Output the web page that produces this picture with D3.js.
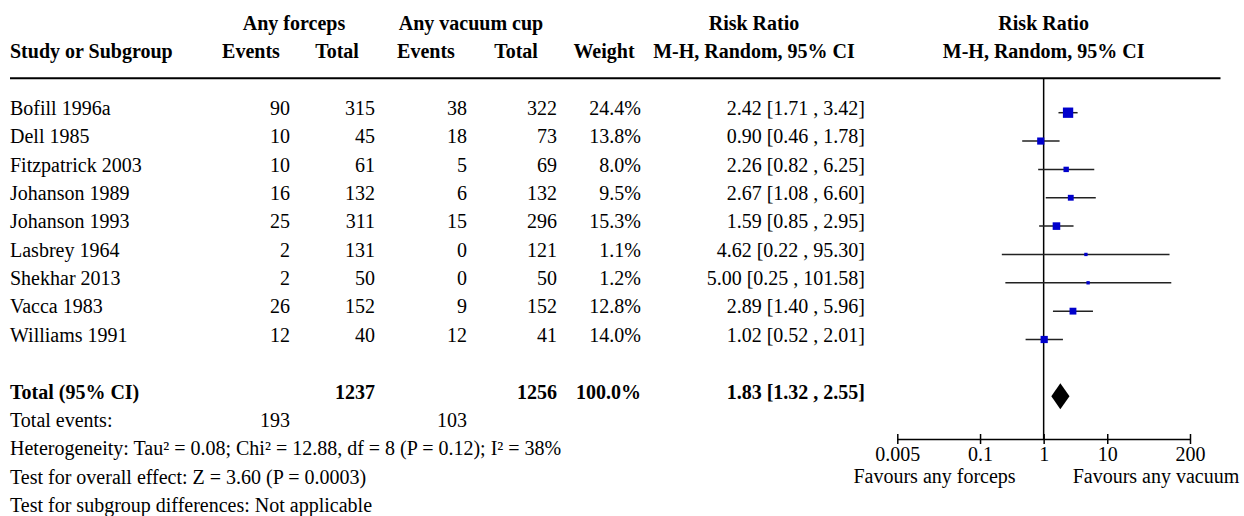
<!DOCTYPE html>
<html><head><meta charset="utf-8">
<script src="https://cdn.jsdelivr.net/npm/d3@7"></script>
<style>
html,body{margin:0;padding:0;background:#fff;}
svg text{font-family:"Liberation Serif","Times New Roman",serif;font-size:20px;fill:#000;}
.b{font-weight:bold;}
</style></head>
<body><svg id="c" width="1244" height="516"></svg>
<script>
const studies = ["Bofill 1996a","Dell 1985","Fitzpatrick 2003","Johanson 1989","Johanson 1993","Lasbrey 1964","Shekhar 2013","Vacca 1983","Williams 1991"];
const eventsForceps = [90,10,10,16,25,2,2,26,12];
const totalForceps = [315,45,61,132,311,131,50,152,40];
const eventsVacuum = [38,18,5,6,15,0,0,9,12];
const totalVacuum = [322,73,69,132,296,121,50,152,41];
const weights = [24.4,13.8,8.0,9.5,15.3,1.1,1.2,12.8,14.0];
const rr = [2.42,0.90,2.26,2.67,1.59,4.62,5.00,2.89,1.02];
const ciLow = [1.71,0.46,0.82,1.08,0.85,0.22,0.25,1.40,0.52];
const ciHigh = [3.42,1.78,6.25,6.60,2.95,95.30,101.58,5.96,2.01];
const total = {label:"Total (95% CI)", totalForceps:1237, totalVacuum:1256, weight:100.0, rr:1.83, lo:1.32, hi:2.55, eventsForceps:193, eventsVacuum:103};
const tickValues = [0.005,0.1,1,10,200];
const tickLabels = ["0.005","0.1","1","10","200"];
const footnotes = ["Heterogeneity: Tau\u00b2 = 0.08; Chi\u00b2 = 12.88, df = 8 (P = 0.12); I\u00b2 = 38%","Test for overall effect: Z = 3.60 (P = 0.0003)","Test for subgroup differences: Not applicable"];
const favours = ["Favours any forceps","Favours any vacuum"];

const svg = d3.select("#c");
const x = d3.scaleLog().domain([0.005,200]).range([897.3,1190]);
const rowH = 28.35, base0 = 115, mid0 = 112.7;
const rowBase = i => base0 + rowH*i;
const rowMid = i => mid0 + rowH*i;

// column positions
const hdrCenters = [251,337,426,516,604,754];
const dataRight = [290,375,467,557,641,865];

function txt(xp,yp,s,anchor,bold){
  return svg.append("text").attr("x",xp).attr("y",yp).attr("text-anchor",anchor||"start").attr("class",bold?"b":null).text(s);
}
// headers
txt(294,rowBase(-3),"Any forceps","middle",true);
txt(471,rowBase(-3),"Any vacuum cup","middle",true);
txt(754,rowBase(-3),"Risk Ratio","middle",true);
txt(x(1),rowBase(-3),"Risk Ratio","middle",true);
txt(10,rowBase(-2),"Study or Subgroup","start",true);
["Events","Total","Events","Total","Weight","M-H, Random, 95% CI"].forEach((h,i)=>txt(hdrCenters[i],rowBase(-2),h,"middle",true));
txt(x(1),rowBase(-2),"M-H, Random, 95% CI","middle",true);

svg.append("line").attr("x1",10).attr("x2",1220.5).attr("y1",78.3).attr("y2",78.3).attr("stroke","#000").attr("stroke-width",2);

const f2 = d3.format(".2f"), f1 = d3.format(".1f");
studies.forEach((s,i)=>{
  const y = rowBase(i);
  txt(10,y,s);
  txt(dataRight[0],y,eventsForceps[i],"end");
  txt(dataRight[1],y,totalForceps[i],"end");
  txt(dataRight[2],y,eventsVacuum[i],"end");
  txt(dataRight[3],y,totalVacuum[i],"end");
  txt(dataRight[4],y,f1(weights[i])+"%","end");
  txt(dataRight[5],y,f2(rr[i])+" ["+f2(ciLow[i])+" , "+f2(ciHigh[i])+"]","end");
});
// total row
const tr = 10;
txt(10,rowBase(tr),total.label,"start",true);
txt(dataRight[1],rowBase(tr),total.totalForceps,"end",true);
txt(dataRight[3],rowBase(tr),total.totalVacuum,"end",true);
txt(dataRight[4],rowBase(tr),f1(total.weight)+"%","end",true);
txt(dataRight[5],rowBase(tr),f2(total.rr)+" ["+f2(total.lo)+" , "+f2(total.hi)+"]","end",true);
txt(10,rowBase(11),"Total events:");
txt(dataRight[0],rowBase(11),total.eventsForceps,"end");
txt(dataRight[2],rowBase(11),total.eventsVacuum,"end");
footnotes.forEach((f,i)=>txt(10,rowBase(12+i),f));

// vertical line of no effect
const axisY = 439;
svg.append("line").attr("x1",x(1)).attr("x2",x(1)).attr("y1",78.3).attr("y2",axisY).attr("stroke","#000").attr("stroke-width",1.5);

// CI lines and squares
const g = svg.append("g");
studies.forEach((s,i)=>{
  const cy = rowMid(i);
  g.append("line").attr("x1",x(ciLow[i])).attr("x2",x(ciHigh[i])).attr("y1",cy).attr("y2",cy).attr("stroke","#222").attr("stroke-width",1.5);
  const sz = 3 + 0.3*weights[i];
  g.append("rect").attr("x",x(rr[i])-sz/2).attr("y",cy-sz/2).attr("width",sz).attr("height",sz).attr("fill","#0000cc");
});
// diamond
const dy = rowMid(tr), dh = 13;
svg.append("path").attr("d",`M${x(total.lo)},${dy}L${x(total.rr)},${dy-dh}L${x(total.hi)},${dy}L${x(total.rr)},${dy+dh}Z`).attr("fill","#000");

// axis
const ax = d3.axisBottom(x).tickValues(tickValues).tickFormat((d,i)=>tickLabels[i]).tickSizeInner(5).tickSizeOuter(0);
const ag = svg.append("g").attr("transform",`translate(0,${axisY})`).call(ax);
ag.select(".domain").attr("stroke","#000").attr("stroke-width",1.5);
ag.selectAll(".tick line").attr("y1",-5).attr("y2",5).attr("stroke","#000").attr("stroke-width",1.5);
ag.selectAll(".tick text").attr("y",22).attr("dy",null).style("font-family","'Liberation Serif',serif").style("font-size","20px").attr("fill","#000");
txt(x(1)-28,483,favours[0],"end");
txt(x(1)+29,483,favours[1],"start");
</script></body></html>
